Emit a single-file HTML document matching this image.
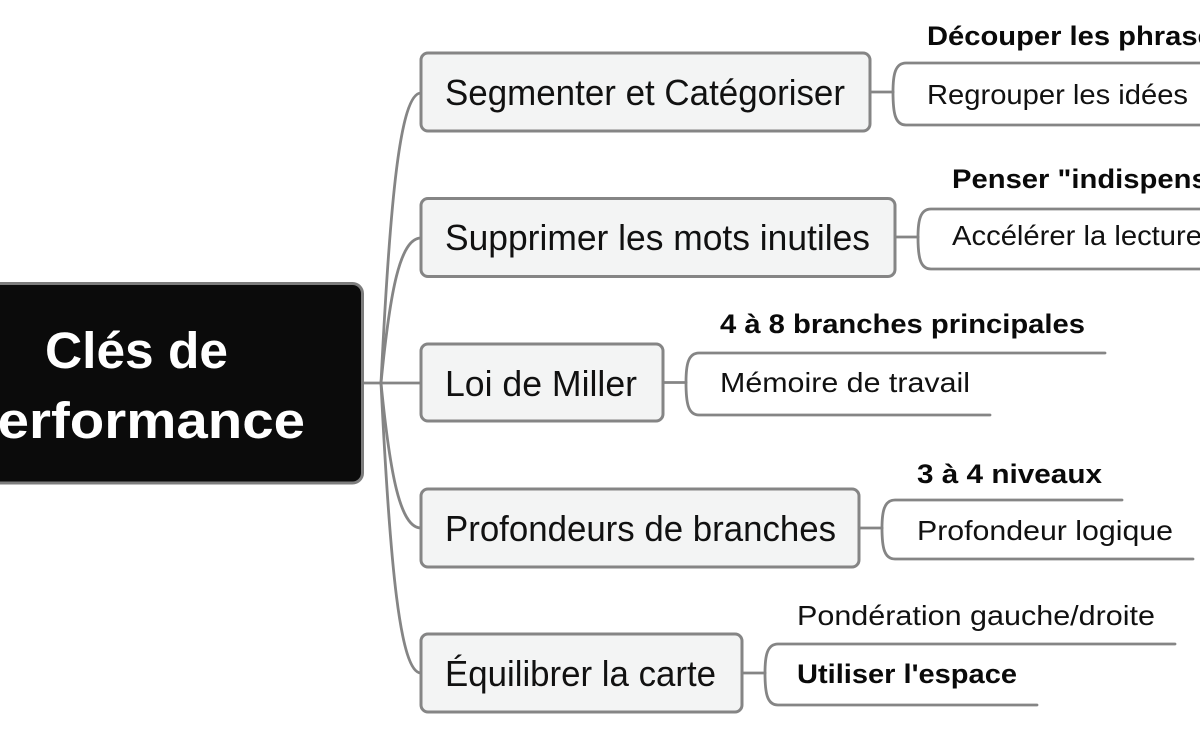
<!DOCTYPE html>
<html>
<head>
<meta charset="utf-8">
<style>
  html, body { margin: 0; padding: 0; background: #ffffff; }
  body { width: 1200px; height: 730px; overflow: hidden; }
  svg { display: block; }
  .topic { font-family: "Liberation Sans", "DejaVu Sans", sans-serif; font-size: 36px; fill: #111111; }
  .sub { font-family: "Liberation Sans", "DejaVu Sans", sans-serif; font-size: 28px; fill: #111111; }
  .subb { font-family: "Liberation Sans", "DejaVu Sans", sans-serif; font-size: 27px; font-weight: bold; fill: #0a0a0a; }
  .root { font-family: "Liberation Sans", "DejaVu Sans", sans-serif; font-size: 51px; font-weight: bold; fill: #ffffff; }
  .ln { fill: none; stroke: #858585; stroke-width: 2.8; stroke-linecap: round; }
  .box { fill: #f3f4f4; stroke: #858585; stroke-width: 3; }
</style>
</head>
<body>
<svg width="1200" height="730" viewBox="0 0 1200 730" xmlns="http://www.w3.org/2000/svg">
  <rect x="0" y="0" width="1200" height="730" fill="#ffffff"/>

  <!-- main connectors -->
  <path class="ln" d="M363,383 L421,383"/>
  <path class="ln" d="M381,383 C390,200 400,93 421,93"/>
  <path class="ln" d="M381,383 C390,291 400,238 421,238"/>
  <path class="ln" d="M381,383 C390,474 400,528 421,528"/>
  <path class="ln" d="M381,383 C390,566 400,673 421,673"/>

  <!-- root node -->
  <rect x="-20" y="283.5" width="382.5" height="199.5" rx="10" ry="10" fill="#0b0b0b" stroke="#7d7d7d" stroke-width="3"/>
  <text class="root" x="45" y="368" textLength="183" lengthAdjust="spacingAndGlyphs">Clés de</text>
  <text class="root" x="-40" y="438" textLength="345" lengthAdjust="spacingAndGlyphs">Performance</text>

  <!-- topic 1 -->
  <rect class="box" x="421" y="53" width="449" height="78" rx="7" ry="7"/>
  <text class="topic" x="445" y="105" textLength="400" lengthAdjust="spacingAndGlyphs">Segmenter et Catégoriser</text>
  <path class="ln" d="M870,92 L893,92"/>
  <path class="ln" d="M893,92 C893,75 895,63 906,63 L1220,63"/>
  <path class="ln" d="M893,92 C893,113 895,125 906,125 L1208,125"/>
  <text class="subb" x="927" y="45" textLength="303" lengthAdjust="spacingAndGlyphs">Découper les phrases</text>
  <text class="sub" x="927" y="104" textLength="261" lengthAdjust="spacingAndGlyphs">Regrouper les idées</text>

  <!-- topic 2 -->
  <rect class="box" x="421" y="198.5" width="474" height="78" rx="7" ry="7"/>
  <text class="topic" x="445" y="250" textLength="425" lengthAdjust="spacingAndGlyphs">Supprimer les mots inutiles</text>
  <path class="ln" d="M895,237 L918,237"/>
  <path class="ln" d="M918,237 C918,221 920,209 931,209 L1220,209"/>
  <path class="ln" d="M918,237 C918,257 920,269 931,269 L1220,269"/>
  <text class="subb" x="952" y="188" textLength="328" lengthAdjust="spacingAndGlyphs">Penser "indispensable"</text>
  <text class="sub" x="952" y="245" textLength="250" lengthAdjust="spacingAndGlyphs">Accélérer la lecture</text>

  <!-- topic 3 -->
  <rect class="box" x="421" y="344" width="242" height="77" rx="7" ry="7"/>
  <text class="topic" x="445" y="396" textLength="192" lengthAdjust="spacingAndGlyphs">Loi de Miller</text>
  <path class="ln" d="M663,382.5 L686,382.5"/>
  <path class="ln" d="M686,382.5 C686,365 688,353 699,353 L1105,353"/>
  <path class="ln" d="M686,382.5 C686,403 688,415 699,415 L990,415"/>
  <text class="subb" x="720" y="333" textLength="365" lengthAdjust="spacingAndGlyphs">4 à 8 branches principales</text>
  <text class="sub" x="720" y="392" textLength="250" lengthAdjust="spacingAndGlyphs">Mémoire de travail</text>

  <!-- topic 4 -->
  <rect class="box" x="421" y="489" width="438" height="78" rx="7" ry="7"/>
  <text class="topic" x="445" y="541" textLength="391" lengthAdjust="spacingAndGlyphs">Profondeurs de branches</text>
  <path class="ln" d="M859,528 L882,528"/>
  <path class="ln" d="M882,528 C882,512 884,500 895,500 L1122,500"/>
  <path class="ln" d="M882,528 C882,547 884,559 895,559 L1193,559"/>
  <text class="subb" x="917" y="483" textLength="185" lengthAdjust="spacingAndGlyphs">3 à 4 niveaux</text>
  <text class="sub" x="917" y="540" textLength="256" lengthAdjust="spacingAndGlyphs">Profondeur logique</text>

  <!-- topic 5 -->
  <rect class="box" x="421" y="634" width="321" height="78" rx="7" ry="7"/>
  <text class="topic" x="445" y="686" textLength="271" lengthAdjust="spacingAndGlyphs">Équilibrer la carte</text>
  <path class="ln" d="M742,673 L765,673"/>
  <path class="ln" d="M765,673 C765,656 767,644 778,644 L1175,644"/>
  <path class="ln" d="M765,673 C765,693 767,705 778,705 L1037,705"/>
  <text class="sub" x="797" y="625" textLength="358" lengthAdjust="spacingAndGlyphs">Pondération gauche/droite</text>
  <text class="subb" x="797" y="683" textLength="220" lengthAdjust="spacingAndGlyphs">Utiliser l'espace</text>
</svg>
</body>
</html>
